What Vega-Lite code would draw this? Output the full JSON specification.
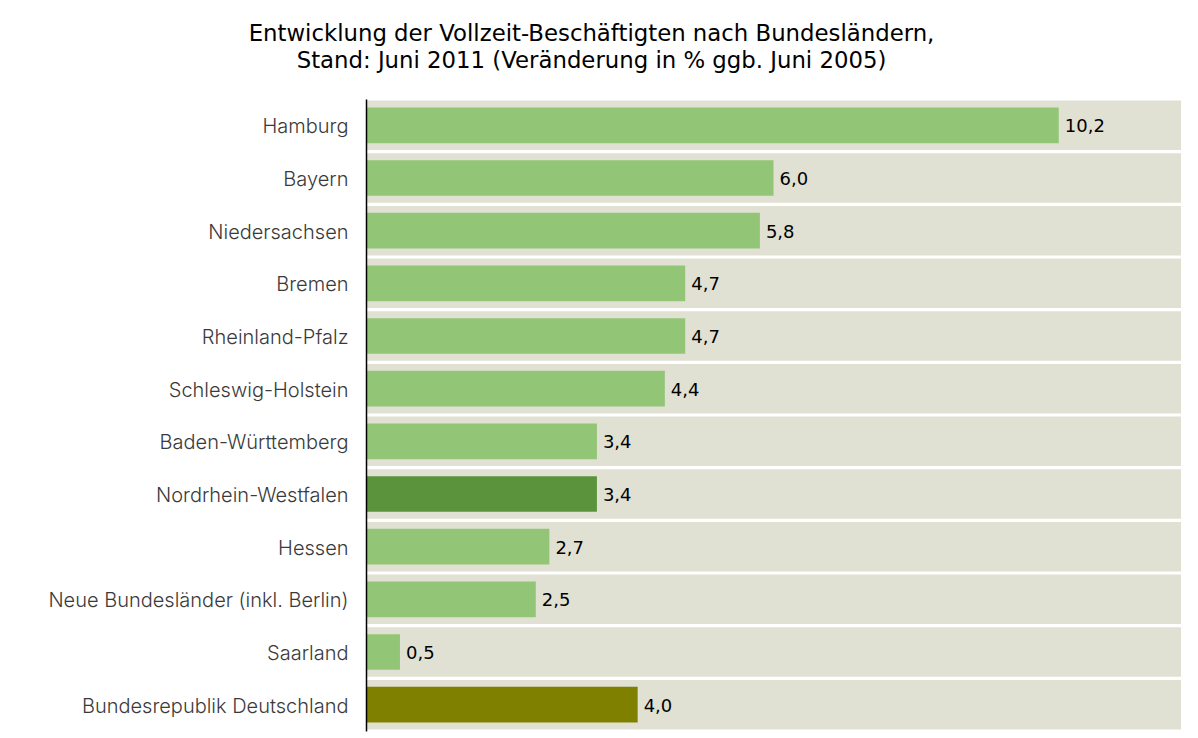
{
  "$schema": "https://vega.github.io/schema/vega-lite/v6.json",
  "autosize": "none",
  "padding": {"left": 366, "top": 99, "right": 17, "bottom": 6},
  "width": 815,
  "height": 632,
  "background": "white",
  "config": {
    "view": {"stroke": null},
    "locale": {"number": {"decimal": ",", "thousands": ".", "grouping": [3], "currency": ["", " €"]}}
  },
  "title": {
    "text": ["Entwicklung der Vollzeit-Beschäftigten nach Bundesländern,", "Stand: Juni 2011 (Veränderung in % ggb. Juni 2005)"],
    "font": "DejaVu Sans",
    "fontSize": 22.8,
    "fontWeight": "normal",
    "color": "#000000",
    "lineHeight": 27,
    "anchor": "middle",
    "frame": "group",
    "dx": -182,
    "offset": 26
  },
  "data": {
    "values": [
      {"land": "Hamburg", "wert": 10.2, "typ": "land"},
      {"land": "Bayern", "wert": 6.0, "typ": "land"},
      {"land": "Niedersachsen", "wert": 5.8, "typ": "land"},
      {"land": "Bremen", "wert": 4.7, "typ": "land"},
      {"land": "Rheinland-Pfalz", "wert": 4.7, "typ": "land"},
      {"land": "Schleswig-Holstein", "wert": 4.4, "typ": "land"},
      {"land": "Baden-Württemberg", "wert": 3.4, "typ": "land"},
      {"land": "Nordrhein-Westfalen", "wert": 3.4, "typ": "nrw"},
      {"land": "Hessen", "wert": 2.7, "typ": "land"},
      {"land": "Neue Bundesländer (inkl. Berlin)", "wert": 2.5, "typ": "land"},
      {"land": "Saarland", "wert": 0.5, "typ": "land"},
      {"land": "Bundesrepublik Deutschland", "wert": 4.0, "typ": "brd"}
    ]
  },
  "encoding": {
    "y": {
      "field": "land",
      "type": "nominal",
      "sort": null,
      "scale": {"paddingInner": 0.06, "paddingOuter": 0.03},
      "axis": {
        "title": null,
        "ticks": false,
        "domainColor": "#000000",
        "domainWidth": 1.5,
        "labelPadding": 18,
        "labelLimit": 400,
        "labelOffset": 2,
        "labelFont": "Inter",
        "labelFontWeight": 300,
        "labelFontSize": 20,
        "labelColor": "#3a3a3a",
        "zindex": 2
      }
    }
  },
  "layer": [
    {
      "mark": {"type": "bar", "color": "#e0e1d3"},
      "encoding": {
        "x": {"datum": 12, "type": "quantitative", "scale": {"domain": [0, 12]}, "axis": null}
      }
    },
    {
      "mark": {"type": "bar", "height": {"band": 0.72}},
      "encoding": {
        "x": {"field": "wert", "type": "quantitative", "scale": {"domain": [0, 12]}, "axis": null},
        "color": {
          "field": "typ",
          "type": "nominal",
          "scale": {"domain": ["land", "nrw", "brd"], "range": ["#93c577", "#5a933b", "#808000"]},
          "legend": null
        }
      }
    },
    {
      "mark": {"type": "text", "align": "left", "dx": 6, "dy": 2, "font": "DejaVu Sans", "fontSize": 18, "color": "#000000"},
      "encoding": {
        "x": {"field": "wert", "type": "quantitative", "scale": {"domain": [0, 12]}, "axis": null},
        "text": {"field": "wert", "type": "quantitative", "format": ".1f"}
      }
    }
  ]
}
